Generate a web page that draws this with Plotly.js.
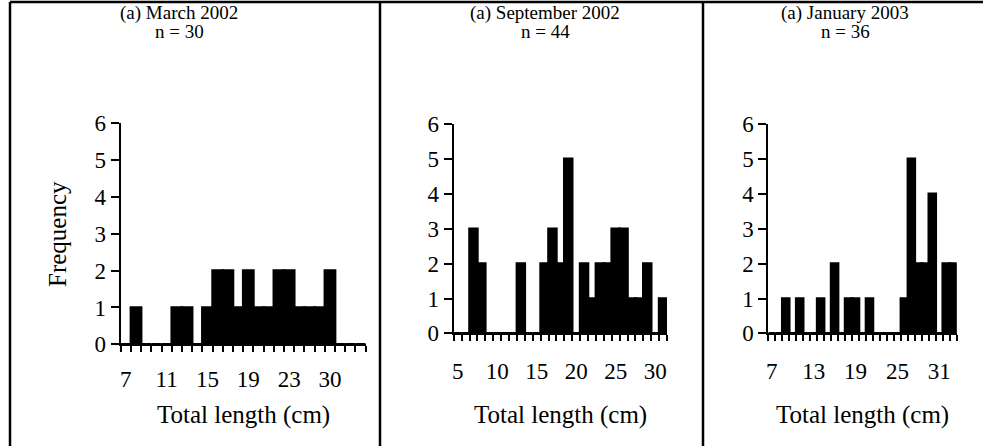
<!DOCTYPE html>
<html>
<head>
<meta charset="utf-8">
<script src="https://cdn.plot.ly/plotly-3.0.1.min.js"></script>
<style>html,body{margin:0;padding:0;background:#fff;}#chart{width:983px;height:446px;}</style>
</head>
<body>
<div id="chart"></div>
<script>
// ---- data ----
const titlesTop = ["(a) March 2002", "(a) September 2002", "(a) January 2003"];
const titlesN = ["n = 30", "n = 44", "n = 36"];

const lengthsMar = [7,8,9,10,11,12,13,14,15,16,17,18,19,20,21,22,23,24,25,26,27,28,29,30];
const freqMar    = [0,1,0,0,0,1,1,0,1,2,2,1,2,1,1,2,2,1,1,1,2,0,0,0];
const tickValsMar = [7,11,15,19,23,27];
const tickTextMar = ["7","11","15","19","23","30"];

const lengthsSep = [5,6,7,8,9,10,11,12,13,14,15,16,17,18,19,20,21,22,23,24,25,26,27,28,29,30,31];
const freqSep    = [0,0,3,2,0,0,0,0,2,0,0,2,3,2,5,0,2,1,2,2,3,3,1,1,2,0,1];
const tickValsSep = [5,10,15,20,25,30];
const tickTextSep = ["5","10","15","20","25","30"];

const lengthsJan = [7,8,9,10,11,12,13,14,15,16,17,18,19,20,21,22,23,24,25,26,27,28,29,30,31,32,33];
const freqJan    = [0,0,1,0,1,0,0,1,0,2,0,1,1,0,1,0,0,0,0,1,5,2,2,4,0,2,2];
const tickValsJan = [7,13,19,25,31];
const tickTextJan = ["7","13","19","25","31"];

const yTickVals = [0,1,2,3,4,5,6];
const xTitle = "Total length (cm)";
const yTitle = "Frequency";

// ---- layout helpers ----
const W = 983, H = 446;
const px = v => v / W;
const py = v => (H - v) / H;
const FONT = "Liberation Serif";

function barTrace(x, y, xa, ya) {
  return {
    type: "bar", x: x, y: y, xaxis: xa, yaxis: ya, width: 1,
    marker: {color: "#000", line: {color: "#000", width: 2.6}},
    hoverinfo: "x+y", showlegend: false
  };
}

function xAxis(domain, lengths, tv, tt, anchor, standoff) {
  return {
    domain: domain, anchor: anchor,
    range: [lengths[0] - 0.5, lengths[lengths.length - 1] + 0.5],
    showline: true, linecolor: "#000", linewidth: 2,
    showgrid: false, zeroline: false,
    tickmode: "array", tickvals: tv, ticktext: tt, ticks: "",
    ticklabelstandoff: standoff,
    minor: {ticks: "outside", tick0: lengths[0] - 0.5, dtick: 1, ticklen: 6, tickwidth: 2, tickcolor: "#000", showgrid: false},
    tickfont: {family: FONT, size: 23, color: "#000"},
    fixedrange: true
  };
}

function yAxis(domain, anchor) {
  return {
    domain: domain, anchor: anchor, range: [0, 6],
    showline: true, linecolor: "#000", linewidth: 2,
    showgrid: false, zeroline: false,
    tickmode: "array", tickvals: yTickVals,
    ticks: "outside", ticklen: 8, tickwidth: 2, tickcolor: "#000",
    ticklabelstandoff: 0,
    tickfont: {family: FONT, size: 23, color: "#000"},
    fixedrange: true
  };
}

const data = [
  barTrace(lengthsMar, freqMar, "x", "y"),
  barTrace(lengthsSep, freqSep, "x2", "y2"),
  barTrace(lengthsJan, freqJan, "x3", "y3")
];

const titleCenters = [179, 545, 845];
const annotations = [];
for (let i = 0; i < 3; i++) {
  annotations.push({xref: "paper", yref: "paper", x: px(titleCenters[i]), y: py(13), text: titlesTop[i],
    showarrow: false, xanchor: "center", yanchor: "middle", font: {family: FONT, size: 19, color: "#000"}});
  annotations.push({xref: "paper", yref: "paper", x: px(titleCenters[i]), y: py(32), text: titlesN[i],
    showarrow: false, xanchor: "center", yanchor: "middle", font: {family: FONT, size: 19, color: "#000"}});
}
["x", "x2", "x3"].forEach(a => {
  annotations.push({xref: a + " domain", yref: "paper", x: 0.5, y: py(415), text: xTitle,
    showarrow: false, xanchor: "center", yanchor: "middle", font: {family: FONT, size: 25, color: "#000"}});
});
annotations.push({xref: "paper", yref: "paper", x: px(58), y: py(234), text: yTitle, textangle: -90,
  showarrow: false, xanchor: "center", yanchor: "middle", font: {family: FONT, size: 25, color: "#000"}});

const lineStyle = {color: "#000", width: 2.5};
const shapes = [
  {type: "line", xref: "paper", yref: "paper", x0: px(10), x1: 1, y0: py(2), y1: py(2), line: lineStyle},
  {type: "line", xref: "paper", yref: "paper", x0: px(10), x1: px(10), y0: py(2), y1: 0, line: lineStyle},
  {type: "line", xref: "paper", yref: "paper", x0: px(380), x1: px(380), y0: py(2), y1: 0, line: lineStyle},
  {type: "line", xref: "paper", yref: "paper", x0: px(703), x1: px(703), y0: py(2), y1: 0, line: lineStyle}
];

const layout = {
  width: W, height: H,
  margin: {l: 0, r: 0, t: 0, b: 0},
  paper_bgcolor: "#fff", plot_bgcolor: "#fff",
  bargap: 0, showlegend: false,
  font: {family: FONT, color: "#000"},
  xaxis: xAxis([px(120.7), px(365.7)], lengthsMar, tickValsMar, tickTextMar, "y", 13),
  yaxis: yAxis([py(344.3), py(123.3)], "x"),
  xaxis2: xAxis([px(453.7), px(667)], lengthsSep, tickValsSep, tickTextSep, "y2", 16),
  yaxis2: yAxis([py(333.4), py(124)], "x2"),
  xaxis3: xAxis([px(768.3), px(956.7)], lengthsJan, tickValsJan, tickTextJan, "y3", 16),
  yaxis3: yAxis([py(333.4), py(124)], "x3"),
  annotations: annotations,
  shapes: shapes
};

Plotly.newPlot("chart", data, layout, {displayModeBar: false, staticPlot: true});
</script>
</body>
</html>
